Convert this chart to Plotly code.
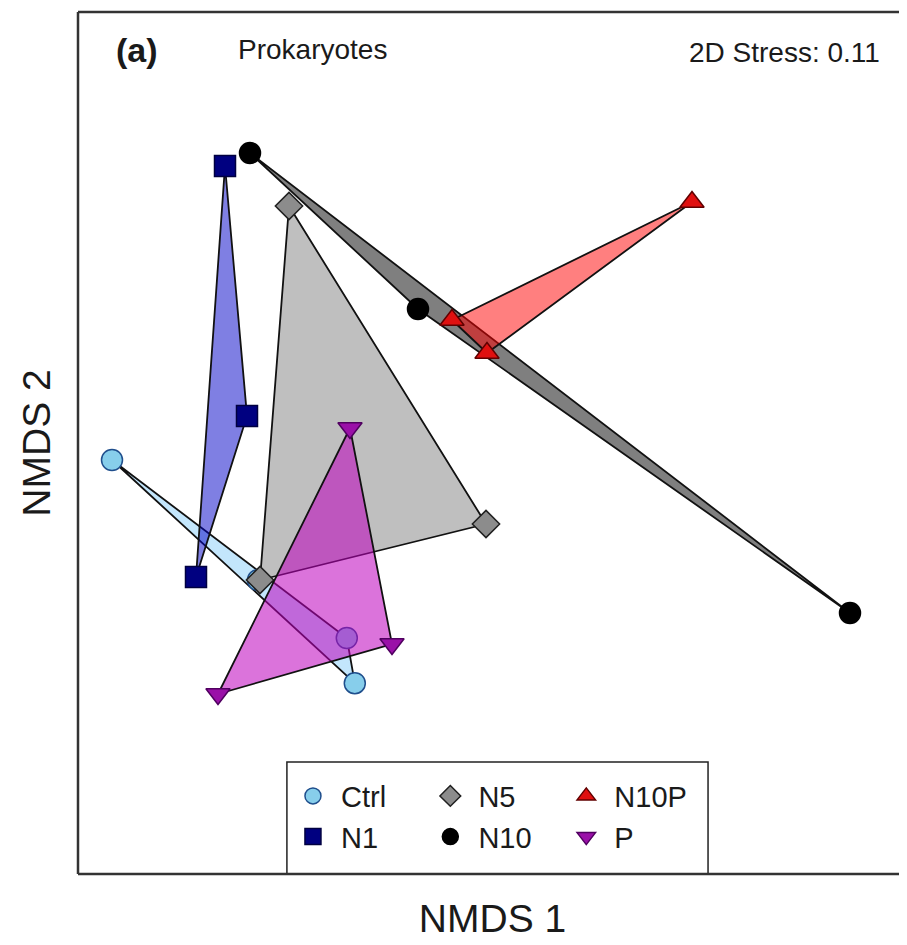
import plotly.graph_objects as go

# NMDS coordinates
groups = ["Ctrl", "N1", "N5", "N10", "N10P", "P"]
ctrl_x = [-0.945, -0.58, -0.358, -0.338]
ctrl_y = [0.025, -0.275, -0.42, -0.533]
n1_x = [-0.6625, -0.6075, -0.735]
n1_y = [0.76, 0.135, -0.2675]
n5_x = [-0.5025, -0.01, -0.575]
n5_y = [0.66, -0.135, -0.275]
n10_x = [-0.6, -0.18, 0.9]
n10_y = [0.7925, 0.4025, -0.3575]
n10p_x = [0.505, -0.095, -0.0075]
n10p_y = [0.67, 0.375, 0.2925]
p_x = [-0.35, -0.245, -0.68]
p_y = [0.105, -0.435, -0.56]

xs = [ctrl_x, n1_x, n5_x, n10_x, n10p_x, p_x]
ys = [ctrl_y, n1_y, n5_y, n10_y, n10p_y, p_y]

symbols = ["circle", "square", "diamond", "circle", "triangle-up", "triangle-down"]
marker_fill = ["#87CEEB", "#000080", "#8C8C8C", "#000000", "#E01010", "#9A10A8"]
marker_line = ["#1F4E8C", "#000040", "#202020", "#000000", "#600000", "#500060"]
poly_fill = ["rgba(135,206,250,0.5)", "rgba(0,0,200,0.5)", "rgba(128,128,128,0.5)",
             "rgba(0,0,0,0.5)", "rgba(255,0,0,0.5)", "rgba(190,0,190,0.55)"]
legend_ids = ["legend", "legend", "legend2", "legend2", "legend3", "legend3"]


def hull(px, py):
    pts = sorted(set(zip(px, py)))
    if len(pts) <= 2:
        return pts

    def cross(o, a, b):
        return (a[0] - o[0]) * (b[1] - o[1]) - (a[1] - o[1]) * (b[0] - o[0])

    lower, upper = [], []
    for p in pts:
        while len(lower) >= 2 and cross(lower[-2], lower[-1], p) <= 0:
            lower.pop()
        lower.append(p)
    for p in reversed(pts):
        while len(upper) >= 2 and cross(upper[-2], upper[-1], p) <= 0:
            upper.pop()
        upper.append(p)
    return lower[:-1] + upper[:-1]


fig = go.Figure()
for i, g in enumerate(groups):
    h = hull(xs[i], ys[i])
    hx = [p[0] for p in h] + [h[0][0]]
    hy = [p[1] for p in h] + [h[0][1]]
    fig.add_trace(go.Scatter(x=hx, y=hy, mode="lines", fill="toself",
                             fillcolor=poly_fill[i],
                             line=dict(color="#111111", width=1.8),
                             showlegend=False, hoverinfo="skip"))
    fig.add_trace(go.Scatter(x=xs[i], y=ys[i], mode="markers", name=" " + g,
                             legend=legend_ids[i],
                             marker=dict(symbol=symbols[i], size=21,
                                         color=marker_fill[i],
                                         line=dict(color=marker_line[i], width=1.5))))

font_main = "Liberation Sans, Arial, sans-serif"
leg_common = dict(orientation="v", yanchor="top", xanchor="left",
                  bgcolor="rgba(0,0,0,0)", font=dict(size=29, color="#1a1a1a", family=font_main),
                  tracegroupgap=0, itemwidth=30)

# plot area: 829 x 862 px; page body has an 8px margin
fig.update_layout(
    width=899, height=937,
    margin=dict(l=70, r=0, t=4, b=71),
    paper_bgcolor="white", plot_bgcolor="white",
    font=dict(family=font_main, color="#1a1a1a"),
    xaxis=dict(range=[-1.03, 1.0425], showgrid=False, zeroline=False,
               showticklabels=False, ticks="", showline=False,
               title=dict(text="NMDS 1", font=dict(size=39), standoff=30)),
    yaxis=dict(range=[-1.01, 1.145], showgrid=False, zeroline=False,
               showticklabels=False, ticks="", showline=False,
               title=dict(text="NMDS 2", font=dict(size=39), standoff=14)),
    legend=dict(x=0.2593, y=0.12, **leg_common),
    legend2=dict(x=0.425, y=0.12, **leg_common),
    legend3=dict(x=0.589, y=0.12, **leg_common),
    shapes=[
        dict(type="line", xref="paper", yref="paper", x0=0, x1=0, y0=0, y1=1,
             line=dict(color="#333333", width=2.5)),
        dict(type="line", xref="paper", yref="paper", x0=0, x1=1, y0=1, y1=1,
             line=dict(color="#333333", width=2.5)),
        dict(type="line", xref="paper", yref="paper", x0=0, x1=1, y0=0, y1=0,
             line=dict(color="#333333", width=2.5)),
        dict(type="rect", xref="paper", yref="paper", x0=0.252, x1=0.760, y0=0, y1=0.130,
             line=dict(color="#222222", width=1.5), fillcolor="white", layer="below"),
    ],
    annotations=[
        dict(text="<b>(a)</b>", xref="paper", yref="paper", x=(137 - 78) / 829, y=(874 - 50) / 862,
             showarrow=False, xanchor="center", yanchor="middle", font=dict(size=34)),
        dict(text="Prokaryotes", xref="paper", yref="paper", x=(236 - 78) / 829, y=(874 - 50) / 862,
             showarrow=False, xanchor="left", yanchor="middle", font=dict(size=28)),
        dict(text="2D Stress: 0.11", xref="paper", yref="paper", x=(882 - 78) / 829, y=(874 - 52) / 862,
             showarrow=False, xanchor="right", yanchor="middle", font=dict(size=28)),
    ],
)

fig.write_html("out.html")
